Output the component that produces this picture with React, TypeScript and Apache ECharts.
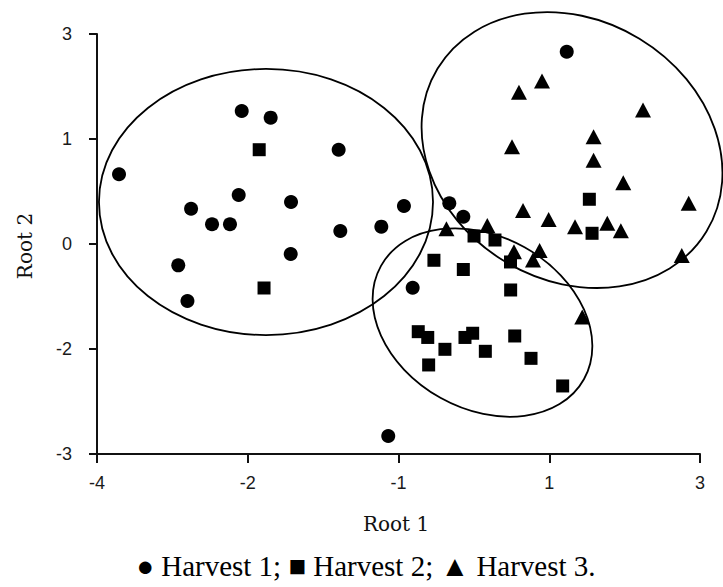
import React, { useEffect, useRef } from "react";
import * as echarts from "echarts";

// Axis tick labels (ticks are evenly spaced on the original figure)
const xTickLabels = ["-4", "-2", "-1", "1", "3"];
const yTickLabels = ["-3", "-2", "0", "1", "3"];

// Positions are in tick-index units (0..4) of each axis
const harvest1: number[][] = [
  [0.146, 2.664], [0.96, 3.267], [1.152, 3.203], [1.603, 2.898], [0.94, 2.467],
  [0.624, 2.336], [1.287, 2.4], [0.763, 2.188], [0.882, 2.188], [1.614, 2.124],
  [1.285, 1.905], [0.539, 1.797], [0.6, 1.457], [2.036, 2.362], [1.886, 2.165],
  [2.337, 2.388], [2.43, 2.26], [2.094, 1.583], [3.116, 3.831], [1.932, 0.171],
];
const harvest2: number[][] = [
  [1.076, 2.898], [1.108, 1.581], [3.266, 2.426], [3.284, 2.102], [2.501, 2.076],
  [2.64, 2.038], [2.743, 1.829], [2.235, 1.845], [2.43, 1.757], [2.744, 1.562],
  [2.131, 1.165], [2.194, 1.11], [2.308, 0.997], [2.2, 0.848], [2.441, 1.11],
  [2.492, 1.15], [2.576, 0.978], [2.771, 1.124], [2.879, 0.911], [3.089, 0.648],
];
const harvest3: number[][] = [
  [2.952, 3.552], [2.799, 3.445], [3.622, 3.276], [3.294, 3.022], [2.753, 2.927],
  [3.294, 2.798], [3.491, 2.584], [3.925, 2.388], [2.826, 2.319], [2.996, 2.233],
  [3.171, 2.165], [3.385, 2.197], [3.475, 2.127], [2.318, 2.145], [2.589, 2.176],
  [2.766, 1.927], [2.936, 1.938], [2.892, 1.848], [3.879, 1.89], [3.219, 1.305],
];
// Group ellipses: [centerX, centerY, semiAxisA (x units), semiAxisB (y units), tilt degrees clockwise]
const groupEllipses: number[][] = [
  [1.121, 2.4, 1.108, 1.267, 0],
  [3.151, 2.895, 1.043, 1.24, 31.2],
  [2.557, 1.252, 0.771, 0.821, 29.2],
];

const captionText = "● Harvest 1; ■ Harvest 2; ▲ Harvest 3.";

export default function App() {
  const ref = useRef<HTMLDivElement>(null);
  useEffect(() => {
    if (!ref.current) return;
    const chart = echarts.init(ref.current, null, { renderer: "svg" });
    const axisLabelStyle = {
      fontFamily: "Liberation Sans, Arial, sans-serif",
      fontSize: 18,
      color: "#1a1a1a",
    };
    chart.setOption({
      animation: false,
      backgroundColor: "#fff",
      grid: { left: 97, right: 23, top: 34, bottom: 133 },
      xAxis: {
        type: "value",
        min: 0,
        max: 4,
        interval: 1,
        axisLine: { show: true, lineStyle: { color: "#111", width: 2 } },
        axisTick: { show: true, length: 9, lineStyle: { color: "#111", width: 2 } },
        axisLabel: {
          ...axisLabelStyle,
          margin: 20,
          formatter: (v: number) => xTickLabels[Math.round(v)] ?? "",
        },
        splitLine: { show: false },
      },
      yAxis: {
        type: "value",
        min: 0,
        max: 4,
        interval: 1,
        offset: 13,
        axisLine: { show: true, lineStyle: { color: "#111", width: 2 } },
        axisTick: { show: true, length: 8, lineStyle: { color: "#111", width: 2 } },
        axisLabel: {
          ...axisLabelStyle,
          margin: 12,
          formatter: (v: number) => yTickLabels[Math.round(v)] ?? "",
        },
        splitLine: { show: false },
      },
      graphic: [
        {
          type: "text",
          x: 396,
          y: 524,
          style: {
            text: "Root 1",
            fontFamily: "DejaVu Serif, serif",
            fontSize: 20,
            fill: "#111",
            textAlign: "center",
            textVerticalAlign: "middle",
          },
        },
        {
          type: "text",
          x: 25,
          y: 246,
          rotation: Math.PI / 2,
          style: {
            text: "Root 2",
            fontFamily: "DejaVu Serif, serif",
            fontSize: 20,
            fill: "#111",
            textAlign: "center",
            textVerticalAlign: "middle",
          },
        },
        {
          type: "text",
          x: 366,
          y: 566,
          style: {
            text: captionText,
            fontFamily: "Liberation Serif, Times New Roman, serif",
            fontSize: 29,
            fill: "#000",
            textAlign: "center",
            textVerticalAlign: "middle",
          },
        },
      ],
      series: [
        {
          type: "scatter",
          name: "Harvest 1",
          symbol: "circle",
          symbolSize: 14,
          itemStyle: { color: "#000", opacity: 1 },
          data: harvest1,
        },
        {
          type: "scatter",
          name: "Harvest 2",
          symbol: "rect",
          symbolSize: 13,
          itemStyle: { color: "#000", opacity: 1 },
          data: harvest2,
        },
        {
          type: "scatter",
          name: "Harvest 3",
          symbol: "triangle",
          symbolSize: [16, 15],
          itemStyle: { color: "#000", opacity: 1 },
          data: harvest3,
        },
        {
          type: "custom",
          name: "Groups",
          clip: false,
          z: 5,
          data: groupEllipses,
          renderItem: (params: any, api: any) => {
            const c = api.coord([api.value(0), api.value(1)]);
            const unit = api.size([1, 1]);
            return {
              type: "ellipse",
              x: c[0],
              y: c[1],
              rotation: (-api.value(4) * Math.PI) / 180,
              shape: {
                cx: 0,
                cy: 0,
                rx: api.value(2) * unit[0],
                ry: api.value(3) * unit[1],
              },
              style: { fill: "none", stroke: "#000", lineWidth: 1.8 },
            };
          },
        },
      ],
    });
    return () => chart.dispose();
  }, []);
  return (
    <div
      ref={ref}
      style={{ position: "fixed", left: 0, top: 0, width: 723, height: 587 }}
    />
  );
}
